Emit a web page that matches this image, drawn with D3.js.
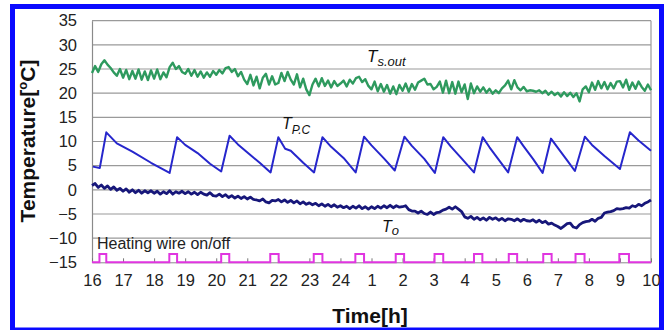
<!DOCTYPE html>
<html>
<head>
<meta charset="utf-8">
<script src="https://cdn.jsdelivr.net/npm/d3@7"></script>
<style>
  body { margin: 0; background: #fff; }
  svg { display: block; font-family: "Liberation Sans", Arial, sans-serif; }
</style>
</head>
<body>
<svg width="666" height="330"></svg>
<script>
// time axis in hours from 16:00 (25 = 1:00 next day)
const xTicks = [16, 17, 18, 19, 20, 21, 22, 23, 24, 25, 26, 27, 28, 29, 30, 31, 32, 33, 34];
const xTickLabels = ["16", "17", "18", "19", "20", "21", "22", "23", "24", "1", "2", "3", "4", "5", "6", "7", "8", "9", "10"];
const yTicks = [-15, -10, -5, 0, 5, 10, 15, 20, 25, 30, 35];

// Ts.out and To are read every 0.1 h starting at 16:00
const sampleStart = 16, sampleStep = 0.1;
const tsOut = [
  24.2, 25.6, 24.4, 26.0, 26.8, 25.9, 25.2, 24.3, 23.6, 25.0,
  23.2, 24.8, 22.9, 24.6, 23.0, 24.9, 22.8, 24.5, 22.7, 24.7,
  23.0, 24.9, 22.9, 24.3, 23.3, 25.4, 26.3, 25.0, 25.6, 24.4,
  24.0, 25.0, 23.6, 24.8, 23.4, 24.5, 23.2, 24.3, 23.4, 24.6,
  23.8, 24.8, 24.1, 25.2, 25.4, 24.4, 25.0, 23.5, 24.4, 22.8,
  21.9, 23.8, 21.6, 23.4, 21.0, 23.2, 24.0, 21.8, 23.5, 21.8,
  22.1, 24.2, 22.5, 24.4, 22.8, 21.8, 23.9, 21.2, 23.0, 20.8,
  19.6, 21.8, 23.0, 21.4, 23.1, 21.5, 22.6, 21.2, 22.5, 21.5,
  22.0, 22.6, 21.4, 22.8, 22.0, 23.1, 23.4, 22.3, 22.9, 21.5,
  20.8, 22.4, 20.4, 21.9, 20.3, 21.7, 19.9, 21.4, 19.8, 21.7,
  20.5, 22.0, 20.3, 21.9, 20.7, 22.2, 22.6, 23.0, 21.8, 21.9,
  20.8, 21.3, 22.4, 20.1, 22.6, 20.0, 22.3, 19.9, 22.4, 20.2,
  21.8, 18.8, 22.0, 20.0, 21.4, 20.3, 21.2, 20.1, 20.9, 19.9,
  20.6, 20.0, 21.0, 21.6, 22.6, 20.8, 22.7, 21.2, 20.6, 21.3,
  20.4, 20.6, 20.5, 20.3, 20.6, 20.0, 20.5, 19.7, 20.3, 19.6,
  20.1, 19.3, 20.2, 19.4, 20.1, 19.2, 20.0, 18.3, 20.8, 21.4,
  20.2, 22.2, 20.7, 22.5, 21.0, 22.3, 20.8, 22.1, 21.0, 22.4,
  22.5, 21.2, 22.8, 20.7, 22.2, 20.9, 22.4, 21.3, 20.5, 21.8,
  20.6
];
const tO = [
  0.9, 1.3, 0.5, 1.0, 0.3, 0.8, 0.1, 0.6, -0.1, 0.3,
  -0.3, 0.2, -0.5, 0.0, -0.6, -0.1, -0.7, -0.2, -0.6, -0.2,
  -0.7, -0.3, -0.9, -0.4, -0.8, -0.2, -0.9, -0.4, -0.7, -0.3,
  -0.8, -0.4, -0.9, -0.5, -1.0, -0.5, -0.9, -1.1, -0.6, -1.2,
  -1.3, -0.9, -1.4, -1.0, -1.6, -1.2, -1.7, -1.3, -1.8, -1.4,
  -1.9, -1.5, -2.0, -2.1, -2.3, -1.9, -2.5, -2.7, -2.2, -2.3,
  -2.0, -2.5, -2.1, -2.6, -2.2, -2.7, -2.3, -2.9, -2.5, -3.0,
  -2.7, -3.1, -2.8, -3.3, -2.9, -3.4, -3.0, -3.5, -3.1, -3.6,
  -3.3, -3.7, -3.4, -3.9, -3.4, -3.8, -3.3, -3.9, -3.5, -4.0,
  -3.5, -3.9, -3.4, -3.8, -3.3, -3.7, -3.2, -3.7, -3.3, -3.6,
  -3.5, -3.3, -4.1, -4.4, -4.4, -4.8, -4.4, -4.9, -5.1, -4.6,
  -5.1, -4.7, -4.6, -4.2, -4.0, -3.6, -4.0, -3.5, -4.0, -4.5,
  -5.6, -5.9, -5.5, -6.1, -5.7, -6.2, -5.8, -6.3, -5.7, -6.1,
  -5.8, -6.3, -5.9, -6.4, -6.0, -6.1, -6.4, -6.0, -6.5, -6.1,
  -6.4, -6.5, -6.2, -6.7, -6.3, -6.8, -6.5, -7.1, -6.9, -7.3,
  -7.6, -8.0, -7.5, -7.0, -6.9, -7.7, -7.9, -7.2, -6.8, -6.6,
  -6.5, -6.1, -6.5, -5.9, -5.7, -4.8, -4.6, -4.5, -4.3, -3.9,
  -4.0, -3.9, -3.7, -3.8, -3.3, -3.5, -3.0, -3.3, -2.8, -2.5,
  -2.1
];
// TP.C sawtooth: [hour, °C]
const tPC = [
  [16.03, 4.8], [16.25, 4.5], [16.46, 11.9], [16.8, 9.6], [17.3, 7.9], [17.9, 5.6], [18.50, 3.5],
  [18.74, 10.9], [19.0, 9.3], [19.4, 7.6], [19.8, 5.4], [20.16, 3.8],
  [20.43, 11.2], [20.7, 9.4], [21.1, 7.2], [21.4, 5.6], [21.75, 3.6],
  [22.00, 10.9], [22.22, 8.5], [22.4, 8.1], [22.8, 5.6], [23.15, 3.6],
  [23.42, 10.9], [23.7, 8.9], [24.1, 6.6], [24.49, 3.6],
  [24.76, 11.0], [25.0, 9.2], [25.4, 6.5], [25.75, 4.0],
  [26.06, 11.0], [26.3, 9.1], [26.7, 6.4], [27.04, 3.5],
  [27.31, 10.9], [27.55, 9.0], [27.9, 6.5], [28.30, 3.6],
  [28.58, 10.9], [28.8, 8.8], [29.1, 6.2], [29.40, 3.6],
  [29.69, 10.9], [29.9, 9.0], [30.2, 6.4], [30.51, 3.5],
  [30.78, 10.6], [31.0, 8.7], [31.3, 6.1], [31.55, 3.9],
  [31.87, 11.0], [32.1, 9.3], [32.5, 7.0], [33.00, 4.3],
  [33.32, 11.9], [33.6, 10.2], [34.0, 8.1]
];
// heating wire "on" intervals, [start h, end h]
const heaterOn = [
  [16.24, 16.46], [18.49, 18.74], [20.16, 20.42], [21.74, 22.01], [23.14, 23.42],
  [24.48, 24.76], [25.78, 26.05], [27.03, 27.31], [28.30, 28.57], [29.42, 29.69],
  [30.53, 30.80], [31.57, 31.86], [32.98, 33.29]
];
const heaterOff = -15, heaterOnLevel = -13.3;

const svg = d3.select("svg");
const plotLeft = 92, plotRight = 651, plotTop = 20.7, plotBottom = 262.3;

// blue outer frame
svg.append("rect")
  .attr("x", 12.5).attr("y", 6.5).attr("width", 649).attr("height", 323.5)
  .attr("fill", "none").attr("stroke", "#0a0aff").attr("stroke-width", 5);

const x = d3.scaleLinear().domain([16, 34]).range([plotLeft, plotRight]);
const y = d3.scaleLinear().domain([-15, 35]).range([plotBottom, plotTop]);

// gridlines
svg.append("g").selectAll("line").data(yTicks.filter(d => d > -15)).join("line")
  .attr("x1", plotLeft).attr("x2", plotRight)
  .attr("y1", d => y(d)).attr("y2", d => y(d))
  .attr("stroke", "#9a9a9a").attr("stroke-width", 1.2);
// right side of the plot frame
svg.append("line").attr("x1", plotRight).attr("x2", plotRight).attr("y1", plotTop).attr("y2", plotBottom)
  .attr("stroke", "#9a9a9a").attr("stroke-width", 1.2);

// y axis
const yAxis = svg.append("g").attr("transform", `translate(${plotLeft},0)`)
  .call(d3.axisLeft(y).tickValues(yTicks).tickSize(0).tickPadding(15));
yAxis.select(".domain").attr("stroke", "#8a8a8a").attr("stroke-width", 1.2);
yAxis.selectAll("text").attr("font-size", 16.5).attr("fill", "#222")
  .attr("font-family", "Liberation Sans, Arial, sans-serif");

// x axis
const xAxis = svg.append("g").attr("transform", `translate(0,${plotBottom})`)
  .call(d3.axisBottom(x).tickValues(xTicks).tickSizeInner(-4).tickSizeOuter(0).tickPadding(12)
    .tickFormat((d, i) => xTickLabels[i]));
xAxis.select(".domain").attr("stroke", "#8a8a8a");
xAxis.selectAll(".tick line").attr("stroke", "#777");
xAxis.selectAll("text").attr("font-size", 16.5).attr("fill", "#222")
  .attr("font-family", "Liberation Sans, Arial, sans-serif");

// series
const sampled = (vals) => vals.map((v, i) => [sampleStart + i * sampleStep, v]);
const line = d3.line().x(d => x(d[0])).y(d => y(d[1]));

svg.append("path").datum(sampled(tsOut)).attr("d", line)
  .attr("fill", "none").attr("stroke", "#2e9a5e").attr("stroke-width", 2.4).attr("stroke-linejoin", "round");
svg.append("path").datum(tPC).attr("d", line)
  .attr("fill", "none").attr("stroke", "#2626cc").attr("stroke-width", 2).attr("stroke-linejoin", "round");
svg.append("path").datum(sampled(tO)).attr("d", line)
  .attr("fill", "none").attr("stroke", "#17177a").attr("stroke-width", 2.8).attr("stroke-linejoin", "round");

// heating wire on/off trace
const heaterPts = [[16, heaterOff]];
heaterOn.forEach(([a, b]) => {
  heaterPts.push([a, heaterOff], [a, heaterOnLevel], [b, heaterOnLevel], [b, heaterOff]);
});
heaterPts.push([34, heaterOff]);
svg.append("path").datum(heaterPts).attr("d", line)
  .attr("fill", "none").attr("stroke", "#e035e0").attr("stroke-width", 2);

// labels
const label = (tx, ty, main, sub, size, subSize, dy) => {
  const t = svg.append("text").attr("x", tx).attr("y", ty)
    .attr("font-style", "italic").attr("font-size", size).attr("fill", "#111");
  t.append("tspan").text(main);
  t.append("tspan").attr("font-size", subSize).attr("dy", dy).text(sub);
};
label(367, 62, "T", "s.out", 17, 13, 4);
label(282, 129, "T", "P.C", 16, 12, 5);
label(382, 232, "T", "o", 16, 13, 3);

svg.append("text").attr("x", 97).attr("y", 249).attr("font-size", 16).attr("fill", "#222")
  .text("Heating wire on/off");

svg.append("text").attr("x", 370).attr("y", 323).attr("text-anchor", "middle")
  .attr("font-size", 21).attr("font-weight", "bold").attr("fill", "#111").text("Time[h]");

const yt = svg.append("text").attr("transform", "translate(35,141) rotate(-90)")
  .attr("text-anchor", "middle").attr("font-size", 21).attr("font-weight", "bold").attr("fill", "#111");
yt.append("tspan").text("Temperature[");
yt.append("tspan").attr("font-size", 13).attr("dy", -8).text("o");
yt.append("tspan").attr("dy", 8).text("C]");
</script>
</body>
</html>
